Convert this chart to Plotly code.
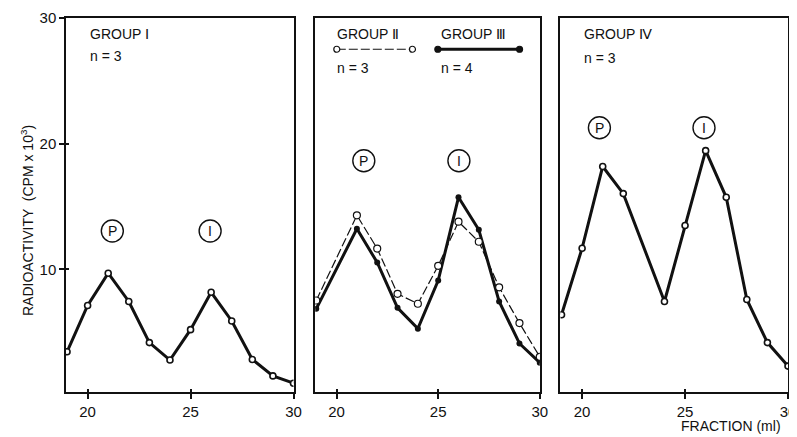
import plotly.graph_objects as go

# ---------------- data ----------------
fractions_1 = [19, 20, 21, 22, 23, 24, 25, 26, 27, 28, 29, 30]
group_1 = [3.45, 7.13, 9.7, 7.45, 4.18, 2.79, 5.21, 8.18, 5.9, 2.84, 1.53, 0.95]

fractions_23 = [19, 21, 22, 23, 24, 25, 26, 27, 28, 29, 30]
group_2 = [7.53, 14.3, 11.66, 8.06, 7.27, 10.29, 13.8, 12.2, 8.58, 5.73, 3.05]
group_3 = [6.87, 13.24, 10.55, 6.95, 5.29, 9.11, 15.74, 13.15, 7.45, 4.11, 2.58]

fractions_4 = [19, 20, 21, 22, 24, 25, 26, 27, 28, 29, 30]
group_4 = [6.4, 11.69, 18.19, 16.03, 7.45, 13.5, 19.45, 15.74, 7.61, 4.18, 2.31]

x_ticks = [20, 25, 30]
y_ticks = [10, 20, 30]
x_range = [18.95, 30]
y_range = [0.25, 30]

# peak labels: (panel, letter, fraction, height)
peak_labels = [
    (1, "P", 21.2, 13.06), (1, "I", 25.95, 13.06),
    (2, "P", 21.34, 18.64), (2, "I", 26.02, 18.64),
    (3, "P", 20.84, 21.27), (3, "I", 25.92, 21.27),
]

FONT = "Liberation Sans, Arial, DejaVu Sans, sans-serif"
BLACK = "#111111"

fig = go.Figure()

thick = dict(color=BLACK, width=3)
open_marker = dict(symbol="circle", size=6, color="white", line=dict(color=BLACK, width=1.6))

fig.add_trace(go.Scatter(x=fractions_1, y=group_1, mode="lines+markers", line=thick,
                         marker=open_marker, xaxis="x", yaxis="y", showlegend=False))
fig.add_trace(go.Scatter(x=fractions_23, y=group_3, mode="lines+markers", line=thick,
                         marker=dict(symbol="circle", size=6, color=BLACK),
                         xaxis="x2", yaxis="y2", showlegend=False))
fig.add_trace(go.Scatter(x=fractions_23, y=group_2, mode="lines+markers",
                         line=dict(color=BLACK, width=1.2, dash="9px,3px"),
                         marker=dict(symbol="circle", size=7, color="white", line=dict(color=BLACK, width=1.2)),
                         xaxis="x2", yaxis="y2", showlegend=False))
fig.add_trace(go.Scatter(x=fractions_4, y=group_4, mode="lines+markers", line=thick,
                         marker=open_marker, xaxis="x3", yaxis="y3", showlegend=False))

# empty traces to host overlay axes (inside tick halves)
fig.add_trace(go.Scatter(x=[], y=[], xaxis="x4", yaxis="y4", showlegend=False))
fig.add_trace(go.Scatter(x=[], y=[], xaxis="x5", yaxis="y2", showlegend=False))
fig.add_trace(go.Scatter(x=[], y=[], xaxis="x6", yaxis="y3", showlegend=False))

domains = [[0, 0.3151], [0.3452, 0.6562], [0.6849, 1.0]]

# the page body has an 8px margin, so the figure is sized to fit inside 797x437
layout = dict(
    width=789, height=429,
    margin=dict(l=58, r=1, t=9, b=45),
    paper_bgcolor="white", plot_bgcolor="white",
    font=dict(family=FONT, color=BLACK, size=14),
    showlegend=False,
)

for i in range(3):
    sfx = "" if i == 0 else str(i + 1)
    layout["xaxis" + sfx] = dict(
        domain=domains[i], range=x_range, anchor="y" + sfx,
        showline=True, linecolor=BLACK, linewidth=1.5, mirror=True,
        showgrid=False, zeroline=False,
        tickmode="array", tickvals=x_ticks, ticks="outside", ticklen=5,
        tickwidth=1.5, tickcolor=BLACK, tickfont=dict(size=15, family=FONT),
    )
    layout["yaxis" + sfx] = dict(
        domain=[0, 1], range=y_range, anchor="x" + sfx,
        showline=True, linecolor=BLACK, linewidth=1.5, mirror=True,
        showgrid=False, zeroline=False,
        tickmode="array", tickvals=y_ticks,
        ticks="outside" if i == 0 else "", ticklen=5, tickwidth=1.5, tickcolor=BLACK,
        showticklabels=(i == 0), tickfont=dict(size=15, family=FONT),
    )
    layout["xaxis" + str(i + 4)] = dict(
        overlaying="x" + sfx, anchor="y" + sfx, range=x_range,
        tickmode="array", tickvals=x_ticks, ticks="inside", ticklen=3,
        tickwidth=1.5, tickcolor=BLACK, showticklabels=False,
        showline=False, showgrid=False, zeroline=False,
    )

layout["yaxis4"] = dict(
    overlaying="y", anchor="x4", range=y_range,
    tickmode="array", tickvals=y_ticks, ticks="inside", ticklen=3,
    tickwidth=1.5, tickcolor=BLACK, showticklabels=False,
    showline=False, showgrid=False, zeroline=False,
)

fig.update_layout(**layout)

annotations = []
shapes = []

def note(text, xref, x, y, yref, size=14, xanchor="left"):
    annotations.append(dict(text=text, xref=xref, yref=yref, x=x, y=y, showarrow=False,
                            xanchor=xanchor, yanchor="middle",
                            font=dict(size=size, family=FONT, color=BLACK)))

note("GROUP Ⅰ", "x domain", 0.095, 0.957, "y domain")
note("n = 3", "x domain", 0.095, 0.899, "y domain")
note("GROUP Ⅱ", "x2 domain", 0.086, 0.957, "y2 domain")
note("n = 3", "x2 domain", 0.086, 0.8675, "y2 domain")
note("GROUP Ⅲ", "x2 domain", 0.55, 0.957, "y2 domain")
note("n = 4", "x2 domain", 0.55, 0.8675, "y2 domain")
note("GROUP Ⅳ", "x3 domain", 0.094, 0.957, "y3 domain")
note("n = 3", "x3 domain", 0.094, 0.894, "y3 domain")

# legend keys in panel 2
shapes.append(dict(type="line", xref="x2 domain", yref="y2 domain", x0=0.096, x1=0.433,
                   y0=0.9165, y1=0.9165, line=dict(color=BLACK, width=1.2, dash="9px,3px")))
shapes.append(dict(type="line", xref="x2 domain", yref="y2 domain", x0=0.546, x1=0.91,
                   y0=0.9165, y1=0.9165, line=dict(color=BLACK, width=3)))
for xa, fill in [(0.096, "white"), (0.433, "white"), (0.546, BLACK), (0.91, BLACK)]:
    shapes.append(dict(type="circle", xref="x2 domain", yref="y2 domain",
                       xsizemode="pixel", ysizemode="pixel", xanchor=xa, yanchor=0.9165,
                       x0=-3, x1=3, y0=-3, y1=3, fillcolor=fill,
                       line=dict(color=BLACK, width=1.2)))

# circled peak labels
for panel, letter, fx, fy in peak_labels:
    sfx = "" if panel == 1 else str(panel)
    shapes.append(dict(type="circle", xref="x" + sfx, yref="y" + sfx,
                       xsizemode="pixel", ysizemode="pixel", xanchor=fx, yanchor=fy,
                       x0=-11, x1=11, y0=-11, y1=11, line=dict(color=BLACK, width=1.4)))
    annotations.append(dict(text=letter, xref="x" + sfx, yref="y" + sfx, x=fx, y=fy,
                            showarrow=False, xanchor="center", yanchor="middle",
                            font=dict(size=14, family=FONT, color=BLACK)))

annotations.append(dict(text="RADIOACTIVITY  (CPM x 10<sup>3</sup>)", xref="paper", yref="paper",
                        x=-0.053, y=0.459, textangle=-90, showarrow=False,
                        xanchor="center", yanchor="middle",
                        font=dict(size=14, family=FONT, color=BLACK)))
annotations.append(dict(text="FRACTION (ml)", xref="paper", yref="paper",
                        x=0.921, y=-0.092, showarrow=False,
                        xanchor="center", yanchor="middle",
                        font=dict(size=14, family=FONT, color=BLACK)))

fig.update_layout(annotations=annotations, shapes=shapes)

fig.write_html("out.html")
